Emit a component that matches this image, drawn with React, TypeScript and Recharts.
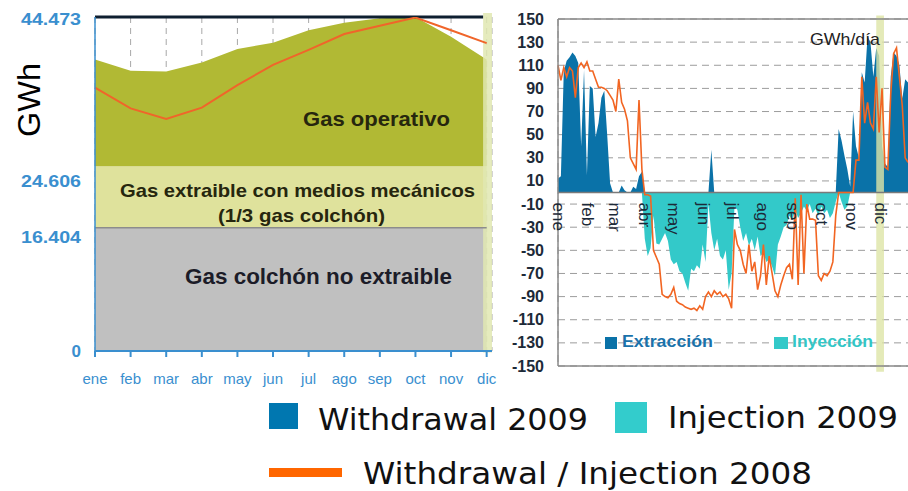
import React from 'react';
import {
  ComposedChart,
  Area,
  Line,
  XAxis,
  YAxis,
  CartesianGrid,
  ReferenceArea,
  ReferenceLine,
  Scatter,
} from 'recharts';

// ---------- Left panel: storage level (GWh) ----------
const monthLabels = ['ene', 'feb', 'mar', 'abr', 'may', 'jun', 'jul', 'ago', 'sep', 'oct', 'nov', 'dic'];
const monthIndex = [0, 1, 2, 3, 4, 5, 6, 7, 8, 9, 10, 11];
const stockTicks = [0, 16.404, 24.606, 44.473];
const stockTickLabels = ['0', '16.404', '24.606', '44.473'];
const cushionTop = 16.404;
const mechanicalTop = 24.606;
const capacity = 44.473;
const operativeGas2009 = [38.8, 37.3, 37.2, 38.4, 40.2, 41.05, 42.7, 43.7, 44.3, 44.47, 41.85, 38.8];
const stock2008 = [35.06, 32.3, 30.9, 32.4, 35.4, 38.1, 40.1, 42.2, 43.3, 44.4, 42.7, 41.0];

// ---------- Right panel: daily flow (GWh/día), sampled every 3 days ----------
const flowTicks = [-150, -130, -110, -90, -70, -50, -30, -10, 10, 30, 50, 70, 90, 110, 130, 150];
const monthStartDays = [0, 31, 59, 90, 120, 151, 181, 212, 243, 273, 304, 334];
const sampleDays = 3;
const withdrawal2009 = [
  12, 14, 105, 114, 117, 121, 118, 112, 40, 106,
  15, 92, 90, 48, 60, 82, 88, 50, 8, 0,
  0, 0, 6, 2, 0, 0, 5, 3, 14, 18,
  0, 0, 0, 0, 0, 0, 0, 0, 0, 0,
  0, 0, 0, 0, 0, 0, 0, 0, 0, 0,
  0, 0, 0, 37, 0, 0, 0, 0, 0, 0,
  0, 0, 0, 0, 0, 0, 0, 0, 0, 0,
  0, 0, 0, 0, 0, 0, 0, 0, 0, 0,
  0, 0, 0, 0, 0, 0, 0, 0, 0, 0,
  0, 0, 0, 0, 0, 0, 0, 55, 45, 32,
  20, 5, 70, 40, 30, 104, 95, 135, 130, 100,
  125, 118, 40, 25, 22, 100, 121, 118, 110, 81,
  98, 95,
];
const injection2009 = [
  0, 0, 0, 0, 0, 0, 0, 0, 0, 0,
  0, 0, 0, 0, 0, 0, 0, 0, 0, 0,
  0, 0, 0, 0, 0, 0, 0, 0, 0, 0,
  -40, -55, -48, -20, -44, -45, -40, -35, -42, -58,
  -62, -60, -68, -70, -78, -85, -66, -68, -63, -66,
  -45, -60, -10, -35, -50, -40, -55, -58, -50, -84,
  -70, -12, -15, -30, -42, -35, -46, -40, -50, -38,
  -55, -52, -60, -58, -64, -72, -45, -38, -30, -28,
  -20, -24, -15, -22, -18, -12, -16, -10, -18, -14,
  -20, -12, -18, -15, -22, -18, -8, 0, -8, -15,
  -12, 0, 0, 0, 0, 0, 0, 0, 0, 0,
  0, 0, 0, 0, 0, 0, 0, 0, 0, 0,
  0, 0,
];
const flow2008 = [
  110, 97, 108, 100, 108, 105, 82, 108, 112, 108,
  113, 105, 105, 98, 91, 91, 90, 88, 84, 80,
  70, 98, 78, 72, 62, 30, 25, 20, 80, 20,
  -2, -2, -3, -50, -56, -62, -88, -90, -91, -88,
  -82, -94, -96, -97, -99, -100, -101, -100, -102, -98,
  -101, -90, -86, -90, -85, -88, -86, -90, -88, -92,
  -100, -32, -45, -50, -62, -70, -45, -68, -60, -84,
  -72, -45, -80, -55, -70, -85, -90, -80, -72, -65,
  -62, -75, -5, -80, -2, -70, -10, -23, -23, -24,
  -72, -76, -70, -72, -68, -60, -20, 0, 0, 0,
  0, 0, 0, 28, 28, 100, 60, 78, 60, 55,
  100, 52, 90, 22, 20, 85, 120, 125, 100, 75,
  30, 26,
];

const stockData = monthIndex.map((m) => ({
  m,
  operative: [mechanicalTop, operativeGas2009[m]],
  stock2008: stock2008[m],
}));

const flowData = withdrawal2009.map((w, k) => ({
  day: k * sampleDays,
  w2009: w,
  i2009: injection2009[k],
  f2008: flow2008[k],
}));

const monthMarks = monthLabels.map((label, i) => ({ day: monthStartDays[i], zero: 0, label }));

const SANS = '"Liberation Sans", Arial, sans-serif';
const BLUE_TICK = '#3a8fcf';
const DARK = '#1d2a38';

const stockTickOffset: Record<string, number> = { '0': 0, '16.404': 10, '24.606': 15, '44.473': 2 };

const StockYTick = (props: any) => {
  const { x, y, payload } = props;
  const idx = stockTicks.indexOf(payload.value);
  const label = idx >= 0 ? stockTickLabels[idx] : String(payload.value);
  return (
    <text x={x} y={y + (stockTickOffset[label] || 0)} textAnchor="end" dominantBaseline="central"
      fontFamily={SANS} fontWeight="bold" fontSize={17} fill={BLUE_TICK} textLength={label.length > 1 ? 60 : undefined}
      lengthAdjust="spacingAndGlyphs">
      {label}
    </text>
  );
};

const StockXTick = (props: any) => {
  const { x, y, payload } = props;
  return (
    <text x={x} y={y + 19} textAnchor="middle" dominantBaseline="central" fontFamily={SANS}
      fontSize={15} fill={BLUE_TICK}>
      {monthLabels[payload.value]}
    </text>
  );
};

const FlowYTick = (props: any) => {
  const { x, y, payload } = props;
  return (
    <text x={x} y={y} textAnchor="end" dominantBaseline="central" fontFamily={SANS}
      fontWeight="bold" fontSize={16} fill={DARK}>
      {payload.value}
    </text>
  );
};

const MonthLabel = (props: any) => {
  const { cx, cy, payload } = props;
  const ty = cy + 10;
  return (
    <g transform={`translate(${cx} ${ty})`}>
      <g transform="rotate(90)">
        <text x={0} y={0} textAnchor="start" dominantBaseline="central"
          fontFamily={SANS} fontSize={17} fill={DARK}>
          {payload.label}
        </text>
      </g>
    </g>
  );
};

export default function App() {
  return (
    <div style={{ position: 'absolute', left: 0, top: 0, width: 908, height: 491, overflow: 'hidden', background: '#fff' }}>
      {/* Left panel */}
      <div style={{ position: 'absolute', left: 0, top: 0 }}>
        <ComposedChart width={500} height={395} data={stockData} margin={{ top: 17, right: 8, bottom: 0, left: 0 }}>
          <CartesianGrid horizontal={false} strokeDasharray="6 5" stroke="#a8a8a8" />
          <XAxis type="number" dataKey="m" domain={[0, 11.15]} ticks={monthIndex} interval={0}
            height={44} tick={StockXTick} axisLine={{ stroke: BLUE_TICK, strokeWidth: 2 }}
            tickLine={{ stroke: BLUE_TICK, strokeWidth: 2 }} tickSize={6} tickMargin={2} />
          <YAxis type="number" domain={[0, capacity]} ticks={stockTicks} width={95} tick={StockYTick}
            tickLine={false} tickSize={6} tickMargin={8} axisLine={{ stroke: BLUE_TICK, strokeWidth: 1.5 }}
            allowDataOverflow />
          <ReferenceArea x1={0} x2={11} y1={0} y2={cushionTop} fill="#c0c0c0" fillOpacity={1} stroke="none" />
          <ReferenceArea x1={0} x2={11} y1={cushionTop} y2={mechanicalTop} fill="#dfe29c" fillOpacity={1} stroke="none" />
          <ReferenceLine segment={[{ x: 0, y: cushionTop }, { x: 11, y: cushionTop }]} stroke="#8c8c8c" strokeWidth={1.5} />
          <Area type="linear" dataKey="operative" fill="#b1b934" fillOpacity={1} stroke="none" isAnimationActive={false} />
          <ReferenceLine segment={[{ x: 0, y: capacity }, { x: 10.9, y: capacity }]} stroke="#0e1f30" strokeWidth={3} />
          <ReferenceArea x1={10.9} x2={11.15} y1={-0.2} y2={45} ifOverflow="visible" fill="#e1e7b2" fillOpacity={0.85} stroke="none" />
          <Line type="linear" dataKey="stock2008" stroke="#f0652a" strokeWidth={2} dot={false} isAnimationActive={false} />
        </ComposedChart>
      </div>

      {/* Right panel */}
      <div style={{ position: 'absolute', left: 480, top: 0 }}>
        <ComposedChart width={440} height={380} data={flowData} margin={{ top: 19, right: 10, bottom: 0, left: 0 }}>
          <CartesianGrid strokeDasharray="7 5" stroke="#9c9c9c" />
          <XAxis type="number" dataKey="day" domain={[0, 365]} ticks={monthStartDays} interval={0}
            height={14} tick={false} tickLine={false} axisLine={{ stroke: '#8a8a8a', strokeWidth: 1.5 }} />
          <YAxis type="number" domain={[-150, 150]} ticks={flowTicks} interval={0} width={78}
            tick={FlowYTick} tickLine={false} tickSize={6} tickMargin={8}
            axisLine={{ stroke: '#8a8a8a', strokeWidth: 1.5 }} />
          <Area type="linear" dataKey="w2009" fill="#0a72a8" fillOpacity={1} stroke="none" isAnimationActive={false} />
          <Area type="linear" dataKey="i2009" fill="#33c9c9" fillOpacity={1} stroke="none" isAnimationActive={false} />
          <ReferenceLine y={0} stroke="#7a7a7a" strokeWidth={1.5} />
          <ReferenceLine y={150} stroke="#8a8a8a" strokeWidth={1.5} />
          <Line type="linear" dataKey="f2008" stroke="#f26522" strokeWidth={1.6} dot={false} isAnimationActive={false} />
          <ReferenceArea x1={330} x2={338} y1={-155} y2={153} ifOverflow="visible" fill="#dde5a6" fillOpacity={0.8} stroke="none" />
          <Scatter data={monthMarks} dataKey="zero" shape={MonthLabel} isAnimationActive={false} />
        </ComposedChart>
      </div>

      {/* Annotations and legend */}
      <svg width={908} height={491} style={{ position: 'absolute', left: 0, top: 0, pointerEvents: 'none' }}>
        <text x={40} y={100} transform="rotate(-90 40 100)" textAnchor="middle" fontFamily={SANS} fontSize={31}
          fill="#000" textLength={74} lengthAdjust="spacingAndGlyphs">GWh</text>

        <g fontFamily={SANS} fontWeight="bold">
          <text x={303} y={126} fontSize={21} fill="#26260e" textLength={147} lengthAdjust="spacingAndGlyphs">Gas operativo</text>
          <text x={120} y={196.5} fontSize={19} fill="#26260e" textLength={355} lengthAdjust="spacingAndGlyphs">Gas extraible con medios mecánicos</text>
          <text x={218} y={221.5} fontSize={19} fill="#26260e" textLength={167} lengthAdjust="spacingAndGlyphs">(1/3 gas colchón)</text>
          <text x={185} y={283.5} fontSize={22} fill="#1c1c28" textLength={267} lengthAdjust="spacingAndGlyphs">Gas colchón no extraible</text>
        </g>

        <text x={810} y={45} fontFamily={SANS} fontSize={17} fill="#222" textLength={70} lengthAdjust="spacingAndGlyphs">GWh/día</text>

        <rect x={605} y={337} width={12} height={12} fill="#0a72a8" />
        <text x={622} y={347} fontFamily={SANS} fontWeight="bold" fontSize={17} fill="#1a72aa" textLength={91} lengthAdjust="spacingAndGlyphs">Extracción</text>
        <rect x={774} y={337} width={14} height={12} fill="#33c9c9" />
        <text x={792} y={347} fontFamily={SANS} fontWeight="bold" fontSize={17} fill="#33c6c6" textLength={81} lengthAdjust="spacingAndGlyphs">Inyección</text>

        <g fontFamily='"DejaVu Sans", Verdana, sans-serif' fill="#111">
          <rect x={269} y={403} width={29} height={26} fill="#0077b0" />
          <text x={318} y={430} fontSize={30} textLength={270} lengthAdjust="spacingAndGlyphs">Withdrawal 2009</text>
          <rect x={615} y={402} width={32} height={31} fill="#33cccc" />
          <text x={668} y={428} fontSize={31} textLength={230} lengthAdjust="spacingAndGlyphs">Injection 2009</text>
          <rect x={269} y={468} width={73} height={9} fill="#ff6600" />
          <text x={363} y={484} fontSize={30} textLength={449} lengthAdjust="spacingAndGlyphs">Withdrawal / Injection 2008</text>
        </g>
      </svg>
    </div>
  );
}
